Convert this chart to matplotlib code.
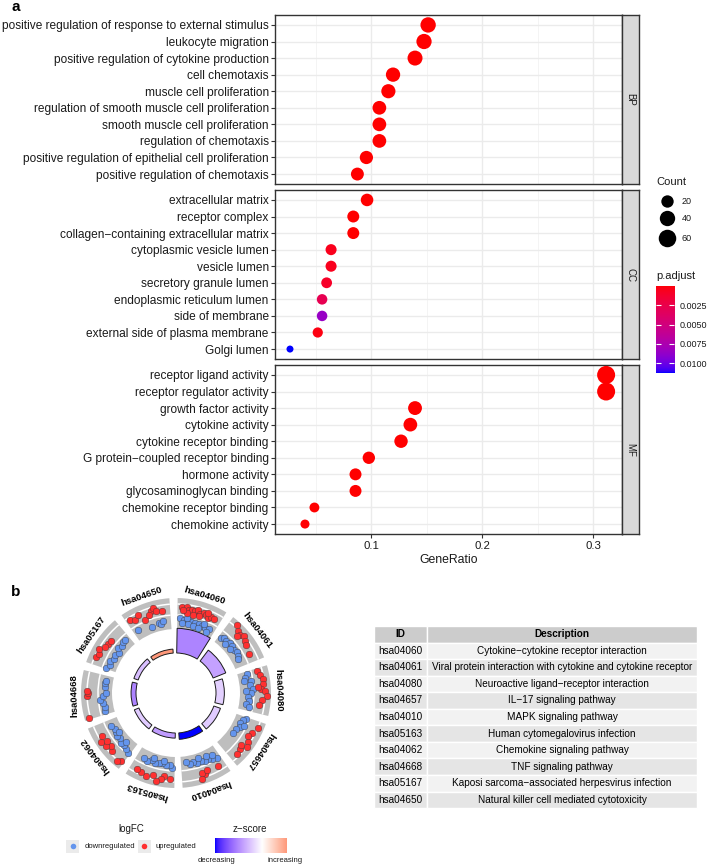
import numpy as np
import matplotlib
matplotlib.use("Agg")
import matplotlib.pyplot as plt
from matplotlib.colors import ListedColormap, Normalize, to_rgb
from matplotlib.patches import Wedge, Rectangle, Arc

plt.rcParams['font.family'] = ['Liberation Sans', 'DejaVu Sans']

W, H = 707, 865

# ---------------- panel a: GO enrichment dot plot ----------------
bp_terms = ["positive regulation of response to external stimulus", "leukocyte migration",
            "positive regulation of cytokine production", "cell chemotaxis",
            "muscle cell proliferation", "regulation of smooth muscle cell proliferation",
            "smooth muscle cell proliferation", "regulation of chemotaxis",
            "positive regulation of epithelial cell proliferation",
            "positive regulation of chemotaxis"]
bp_ratio = [0.1514, 0.1477, 0.1396, 0.1198, 0.1156, 0.1075, 0.1075, 0.1075, 0.0958, 0.0877]
bp_count = [40, 39, 37, 32, 31, 28, 28, 28, 25, 23]
bp_padj = [1e-12, 2e-12, 5e-12, 3e-10, 8e-10, 2e-9, 3e-9, 4e-9, 1e-8, 3e-8]

cc_terms = ["extracellular matrix", "receptor complex",
            "collagen\u2212containing extracellular matrix", "cytoplasmic vesicle lumen",
            "vesicle lumen", "secretory granule lumen", "endoplasmic reticulum lumen",
            "side of membrane", "external side of plasma membrane", "Golgi lumen"]
cc_ratio = [0.0964, 0.0840, 0.0840, 0.0640, 0.0640, 0.0600, 0.0559, 0.0559, 0.0520, 0.0270]
cc_count = [21, 18, 18, 14, 14, 13, 12, 12, 11, 6]
cc_padj = [3e-6, 1.2e-5, 1.5e-5, 6.5e-4, 6.8e-4, 1.1e-3, 2.9e-3, 8.6e-3, 3.5e-4, 1.13e-2]

mf_terms = ["receptor ligand activity", "receptor regulator activity", "growth factor activity",
            "cytokine activity", "cytokine receptor binding",
            "G protein\u2212coupled receptor binding", "hormone activity",
            "glycosaminoglycan binding", "chemokine receptor binding", "chemokine activity"]
mf_ratio = [0.3117, 0.3117, 0.1396, 0.1354, 0.1270, 0.0980, 0.0860, 0.0860, 0.0490, 0.0405]
mf_count = [65, 65, 29, 28, 26, 20, 18, 18, 10, 8]
mf_padj = [1e-20, 2e-20, 1e-10, 2e-10, 5e-10, 1e-7, 3e-6, 4e-6, 2e-5, 5e-5]

size_breaks = [20, 40, 60]
padj_ticks = [0.0025, 0.0050, 0.0075, 0.0100]

# ---------------- panel b: KEGG GOCircle ----------------
kegg_ids = ["hsa04060", "hsa04061", "hsa04080", "hsa04657", "hsa04010",
            "hsa05163", "hsa04062", "hsa04668", "hsa05167", "hsa04650"]
kegg_desc = ["Cytokine\u2212cytokine receptor interaction",
             "Viral protein interaction with cytokine and cytokine receptor",
             "Neuroactive ligand\u2212receptor interaction",
             "IL\u221217 signaling pathway", "MAPK signaling pathway",
             "Human cytomegalovirus infection", "Chemokine signaling pathway",
             "TNF signaling pathway", "Kaposi sarcoma\u2212associated herpesvirus infection",
             "Natural killer cell mediated cytotoxicity"]
kegg_z = [-2.1, -1.6, -0.8, -0.9, -4.0, -1.7, -0.9, -2.1, -1.1, 2.1]
kegg_logp = [13.0, 7.2, 4.4, 3.7, 3.4, 2.7, 2.6, 2.6, 2.4, 2.1]

# gene positions (degrees into each sector) and logFC
up_pos = [[4, 7, 9, 11, 8, 13, 15, 17, 19, 21, 23, 25, 27, 12, 17, 22, 5],
          [6, 9, 12, 14, 17, 20, 26, 11],
          [3, 6, 9, 12, 15, 17, 20, 23, 26, 14],
          [5, 10, 13, 16, 19, 23, 27, 21],
          [6, 16, 18, 19, 14],
          [4, 8, 10, 13, 16, 20, 24, 27],
          [3, 5, 12, 15, 17, 21, 24, 19],
          [2, 16, 18, 19],
          [6, 9, 12, 18, 21, 15],
          [4, 7, 10, 13, 19, 21, 22, 26, 17]]
up_lfc = [[2.0, 2.25, 1.5, 1.75, 0.75, 1.5, 2.0, 1.25, 1.75, 1.5, 1.0, 1.5, 1.25, 0.5, 0.5, 2.0, 1.25],
          [3.25, 2.5, 2.0, 2.75, 2.25, 1.75, 1.25, 1.5],
          [1.5, 2.0, 2.5, 2.25, 1.75, 2.75, 3.25, 2.0, 1.5, 1.0],
          [2.75, 2.0, 1.5, 2.25, 2.75, 1.75, 2.0, 1.25],
          [1.5, 2.0, 1.5, 3.0, 1.25],
          [2.0, 1.5, 2.25, 3.0, 1.75, 2.5, 2.0, 1.75],
          [2.5, 3.0, 2.0, 1.5, 2.5, 3.0, 2.0, 1.5],
          [3.25, 2.75, 2.5, 2.75],
          [2.5, 2.0, 2.75, 1.5, 1.25, 1.75],
          [2.0, 1.5, 2.25, 0.25, 2.0, 2.5, 1.5, 1.25, 1.0]]
down_pos = [[3, 6, 9, 12, 15, 18, 21, 24, 27, 5, 10, 14, 19, 26, 8, 22],
            [3, 5, 8, 11, 14, 17, 20, 23, 25, 9, 15],
            [3, 6, 9, 12, 15, 18, 21, 24, 27, 8, 16, 29],
            [2, 4, 7, 10, 13, 17, 8],
            [4, 7, 10, 13, 16, 19, 22, 25, 28, 11, 17, 6],
            [3, 5, 8, 11, 14, 17, 20, 23, 26, 10, 19],
            [3, 6, 9, 12, 15, 18, 21, 24, 27, 10, 20],
            [4, 7, 10, 13, 16, 23, 26, 28, 18],
            [2, 5, 8, 11, 14, 17, 20, 23, 26, 28],
            [5, 16, 22, 24, 26]]
down_lfc = [[-0.75, -1.25, -1.0, -1.25, -1.5, -1.25, -1.5, -1.75, -1.5, -2.0, -2.0, -2.25, -2.25, -2.5, -0.5, -1.0],
            [-1.75, -1.25, -1.5, -1.0, -1.25, -1.5, -1.0, -1.5, -1.75, -2.25, -2.0],
            [-1.25, -1.75, -0.5, -1.0, -0.25, -0.75, -1.5, -1.25, -1.75, -2.25, -2.0, -1.0],
            [-0.75, -1.5, -1.75, -1.25, -2.0, -2.0, -0.5],
            [-0.25, -0.75, -1.25, -1.0, -1.5, -1.25, -1.75, -1.5, -2.0, -2.0, -2.25, -1.5],
            [-0.75, -1.5, -1.25, -1.75, -1.5, -1.25, -1.75, -1.0, -1.5, -2.25, -2.25],
            [-0.25, -0.75, -1.25, -1.0, -1.5, -1.25, -1.5, -1.75, -1.25, -2.0, -2.25],
            [-1.25, -1.5, -1.0, -0.5, -1.25, -1.75, -1.5, -1.75, -2.0],
            [-1.0, -1.5, -1.25, -1.75, -1.5, -2.0, -1.25, -1.5, -1.0, -1.25],
            [-1.0, -2.0, -1.5, -1.75, -1.25]]


# --- Lab interpolation like ggplot gradients
M = np.array([[0.4124, 0.3576, 0.1805], [0.2126, 0.7152, 0.0722], [0.0193, 0.1192, 0.9505]])
WHITE = np.array([0.95047, 1.0, 1.08883])


def to_lab(c):
    rgb = np.array(to_rgb(c))
    lin = np.where(rgb <= 0.04045, rgb / 12.92, ((rgb + 0.055) / 1.055) ** 2.4)
    xyz = M @ lin / WHITE
    f = np.where(xyz > 0.008856, np.cbrt(xyz), 7.787 * xyz + 16 / 116)
    return np.array([116 * f[1] - 16, 500 * (f[0] - f[1]), 200 * (f[1] - f[2])])


def from_lab(lab):
    fy = (lab[0] + 16) / 116
    f = np.array([fy + lab[1] / 500, fy, fy - lab[2] / 200])
    xyz = np.where(f > 0.2069, f ** 3, (f - 16 / 116) / 7.787) * WHITE
    lin = np.clip(np.linalg.solve(M, xyz), 0, 1)
    rgb = np.where(lin <= 0.0031308, 12.92 * lin, 1.055 * lin ** (1 / 2.4) - 0.055)
    return np.clip(rgb, 0, 1)


def lab_cmap(colors, n=256):
    labs = np.array([to_lab(c) for c in colors])
    knots = np.linspace(0, 1, len(colors))
    out = [from_lab([np.interp(t, knots, labs[:, j]) for j in range(3)]) for t in np.linspace(0, 1, n)]
    return ListedColormap(out)


def box(x0, y0, x1, y1):
    return [x0 / W, 1 - y1 / H, (x1 - x0) / W, (y1 - y0) / H]


fig = plt.figure(figsize=(W / 100, H / 100), dpi=100)
ov = fig.add_axes([0, 0, 1, 1])
ov.set_xlim(0, W)
ov.set_ylim(H, 0)
ov.axis('off')

cmap_a = lab_cmap(['#FF0000', '#0000FF'])
all_padj = bp_padj + cc_padj + mf_padj
norm_a = Normalize(min(all_padj), max(all_padj))
all_count = bp_count + cc_count + mf_count
cmin, cmax = min(all_count), max(all_count)


def dot_size(c):
    d = 7 + 11 * np.sqrt((np.asarray(c, float) - cmin) / (cmax - cmin))
    return (d * 0.72) ** 2


dark = '#333333'
facets = [("BP", bp_terms, bp_ratio, bp_count, bp_padj, 15, 184),
          ("CC", cc_terms, cc_ratio, cc_count, cc_padj, 190, 359),
          ("MF", mf_terms, mf_ratio, mf_count, mf_padj, 365, 534)]
for i, (name, terms, ratio, count, padj, top, bot) in enumerate(facets):
    ax = fig.add_axes(box(275, top, 622, bot))
    yy = np.arange(len(terms), 0, -1)
    ax.scatter(ratio, yy, s=dot_size(count), c=padj, cmap=cmap_a, norm=norm_a,
               linewidths=0, zorder=3)
    ax.set_xlim(0.0135, 0.326)
    ax.set_ylim(0.4, 10.6)
    ax.set_yticks(yy)
    ax.set_yticklabels(terms)
    ax.set_xticks([0.1, 0.2, 0.3])
    ax.set_xticks([0.05, 0.15, 0.25], minor=True)
    ax.grid(which='major', color='#EBEBEB', lw=1.0)
    ax.grid(which='minor', axis='x', color='#F2F2F2', lw=0.6)
    ax.set_axisbelow(True)
    ax.tick_params(axis='y', length=3, color=dark, labelsize=8.6, pad=1.5, labelcolor='#1A1A1A')
    ax.tick_params(which='minor', length=0)
    for sp in ax.spines.values():
        sp.set_color(dark)
        sp.set_linewidth(1.0)
    if i < 2:
        ax.tick_params(axis='x', length=0, labelbottom=False)
    else:
        ax.tick_params(axis='x', length=3, color=dark, labelsize=8.2, pad=2, labelcolor='#1A1A1A')
        ax.set_xticklabels(["0.1", "0.2", "0.3"])
        ax.set_xlabel("GeneRatio", fontsize=8.8, labelpad=2, color='#1A1A1A')
    sax = fig.add_axes(box(622, top, 639, bot))
    sax.set_facecolor('#D9D9D9')
    sax.set_xticks([])
    sax.set_yticks([])
    for sp in sax.spines.values():
        sp.set_color(dark)
        sp.set_linewidth(1.0)
    sax.text(0.5, 0.5, name, rotation=-90, ha='center', va='center', fontsize=7,
             color='#1A1A1A', transform=sax.transAxes)

# size legend
ov.text(656, 182, "Count", fontsize=8, va='center', ha='left', color='#1A1A1A')
for b, yk in zip(size_breaks, [201, 218.3, 238.3]):
    ov.scatter([667], [yk], s=dot_size(b), c='black', linewidths=0)
    ov.text(682, yk, str(b), fontsize=6.5, va='center', ha='left', color='#1A1A1A')

# p.adjust colorbar
ov.text(656, 276, "p.adjust", fontsize=8, va='center', ha='left', color='#1A1A1A')
cax = fig.add_axes(box(656, 286, 674.3, 373.3))
grad = np.linspace(norm_a.vmin, norm_a.vmax, 256).reshape(-1, 1)
cax.imshow(grad, aspect='auto', cmap=cmap_a, norm=norm_a,
           extent=[0, 1, norm_a.vmax, norm_a.vmin])
cax.set_xticks([])
cax.set_yticks(padj_ticks)
cax.set_yticklabels(["%.4f" % t for t in padj_ticks])
cax.tick_params(axis='y', direction='in', left=True, right=True, labelleft=False,
                labelright=True, color='white', length=3.5, width=0.8,
                labelsize=6.5, labelcolor='#1A1A1A', pad=4)
for sp in cax.spines.values():
    sp.set_visible(False)

ov.text(16, 7, "a", fontsize=11, fontweight='bold', ha='center', va='center')
ov.text(16, 592, "b", fontsize=11, fontweight='bold', ha='center', va='center')

# ---------------- panel b drawing ----------------
cx, cy = 176, 693
bx = fig.add_axes(box(cx - 120, cy - 120, cx + 120, cy + 120))
bx.set_xlim(-120, 120)
bx.set_ylim(-120, 120)
bx.axis('off')

cmap_b = lab_cmap(['#0000FF', '#FFFFFF', '#FF0000'])
zlim = max(abs(z) for z in kegg_z)
norm_b = Normalize(-zlim, zlim)

r0, bar_scale = 40, 1.9
g_in, g_out = 64, 95
sec, span0, span1 = 36, 1, 32


def polar(theta_deg, r):
    t = np.radians(theta_deg)
    return r * np.sin(t), r * np.cos(t)


for k, kid in enumerate(kegg_ids):
    a0, a1 = sec * k + span0, sec * k + span1
    bx.add_patch(Wedge((0, 0), g_out, 90 - a1, 90 - a0, width=g_out - g_in,
                       facecolor='#BEBEBE', edgecolor='none', zorder=1))
    for rl in (78, 89):
        bx.add_patch(Arc((0, 0), 2 * rl, 2 * rl, theta1=90 - a1, theta2=90 - a0,
                         color='white', lw=1.1, zorder=2))
    h = kegg_logp[k] * bar_scale
    bx.add_patch(Wedge((0, 0), r0 + h, 90 - a1, 90 - a0, width=h,
                       facecolor=cmap_b(norm_b(kegg_z[k])), edgecolor='#1A1A1A',
                       lw=0.7, zorder=2))
    xd, yd = polar(sec * k + np.array(down_pos[k]), 78 + 4 * np.array(down_lfc[k]))
    bx.scatter(xd, yd, s=23, c='#6495ED', edgecolors='#3A3A3A', linewidths=0.3, zorder=3)
    xu, yu = polar(sec * k + np.array(up_pos[k]), 78 + 4 * np.array(up_lfc[k]))
    bx.scatter(xu, yu, s=23, c='#FF3030', edgecolors='#3A3A3A', linewidths=0.3, zorder=4)
    tc = (a0 + a1) / 2
    lx, ly = polar(tc, 102)
    bx.text(lx, ly, kid, rotation=-tc, rotation_mode='anchor', ha='center', va='center',
            fontsize=6.8, fontweight='bold', color='black')

# logFC legend
ov.text(131.7, 829, "logFC", fontsize=7, ha='center', va='center', color='#1A1A1A')
for xk, col, lab in [(72.7, '#6495ED', "downregulated"), (144.3, '#FF3030', "upregulated")]:
    ov.add_patch(Rectangle((xk - 6.5, 839.5), 13, 13, facecolor='#EBEBEB', edgecolor='none'))
    ov.scatter([xk], [846], s=16, c=col, linewidths=0)
    ov.text(xk + 11.5, 846, lab, fontsize=5.5, ha='left', va='center', color='#1A1A1A')

# z-score legend
ov.text(250, 829, "z\u2212score", fontsize=7, ha='center', va='center', color='#1A1A1A')
zax = fig.add_axes(box(215, 838.3, 286.7, 852.7))
zgrad = np.linspace(min(kegg_z), max(kegg_z), 256).reshape(1, -1)
zax.imshow(zgrad, aspect='auto', cmap=cmap_b, norm=norm_b)
zax.axis('off')
ov.text(217, 861, "decreasing", fontsize=5.5, ha='center', va='center', color='#1A1A1A')
ov.text(285, 861, "increasing", fontsize=5.5, ha='center', va='center', color='#1A1A1A')

# table
tl, tr, tc_split, tt, rh = 374, 697, 427, 626, 16.55
rows = [("ID", "Description")] + list(zip(kegg_ids, kegg_desc))
for j, (rid, rdesc) in enumerate(rows):
    y0 = tt + j * rh
    fill = '#CCCCCC' if j == 0 else ('#F2F2F2' if j % 2 == 1 else '#E5E5E5')
    for xa, xb, txt in [(tl, tc_split, rid), (tc_split, tr, rdesc)]:
        ov.add_patch(Rectangle((xa, y0), xb - xa, rh, facecolor=fill, edgecolor='white', lw=1.0))
        ov.text((xa + xb) / 2, y0 + rh / 2, txt, fontsize=7.2, ha='center', va='center',
                fontweight='bold' if j == 0 else 'normal', color='black')

fig.savefig("out.png", dpi=100)
